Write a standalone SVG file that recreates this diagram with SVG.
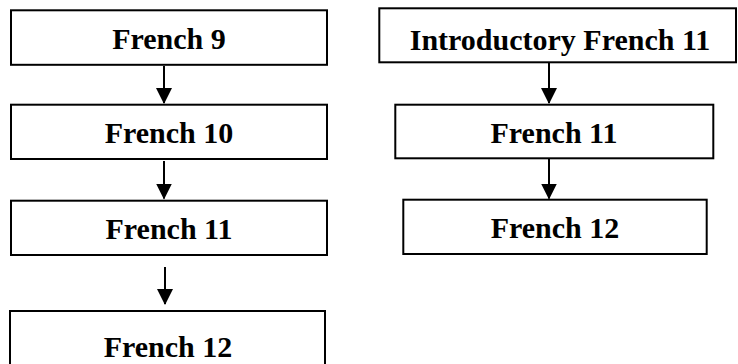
<svg xmlns="http://www.w3.org/2000/svg" width="738" height="364" viewBox="0 0 738 364">
<style>
.box{fill:#fff;stroke:#000;stroke-width:2}
.lbl{font-family:"Liberation Serif","Times New Roman",serif;font-weight:bold;font-size:30px;fill:#000;text-anchor:middle}
.conn{stroke:#000;stroke-width:2;fill:none}
</style>
<defs>
<marker id="ah" markerUnits="userSpaceOnUse" markerWidth="16" markerHeight="16" viewBox="0 0 16 16" refX="15" refY="8" orient="auto">
<polygon points="0,0 16,8 0,16" fill="#000"/>
</marker>
</defs>
<rect width="738" height="364" fill="#fff"/>
<g id="connectors">
<line class="conn" x1="164" y1="66" x2="164" y2="103" marker-end="url(#ah)"/>
<line class="conn" x1="164" y1="161" x2="164" y2="198.5" marker-end="url(#ah)"/>
<line class="conn" x1="165" y1="267" x2="165" y2="304" marker-end="url(#ah)"/>
<line class="conn" x1="549" y1="63" x2="549" y2="103" marker-end="url(#ah)"/>
<line class="conn" x1="549" y1="159" x2="549" y2="198.5" marker-end="url(#ah)"/>
</g>
<g id="n-french9">
<rect class="box" x="11" y="10.3" width="316" height="54.5"/>
<text class="lbl" x="169" y="49.3">French 9</text>
</g>
<g id="n-french10">
<rect class="box" x="11" y="104.7" width="316" height="54.3"/>
<text class="lbl" x="169" y="143.3">French 10</text>
</g>
<g id="n-french11-left">
<rect class="box" x="11" y="200.7" width="316" height="54.3"/>
<text class="lbl" x="169" y="239.3">French 11</text>
</g>
<g id="n-french12-left">
<rect class="box" x="10" y="311" width="315" height="60"/>
<text class="lbl" x="168" y="356.7">French 12</text>
</g>
<g id="n-intro-french11">
<rect class="box" x="379.3" y="8.3" width="356.7" height="54"/>
<text class="lbl" x="560" y="50">Introductory French 11</text>
</g>
<g id="n-french11-right">
<rect class="box" x="395.3" y="104.7" width="318" height="53.6"/>
<text class="lbl" x="554" y="143.3">French 11</text>
</g>
<g id="n-french12-right">
<rect class="box" x="403.3" y="199.7" width="303.4" height="54.3"/>
<text class="lbl" x="555" y="238.3">French 12</text>
</g>
</svg>
